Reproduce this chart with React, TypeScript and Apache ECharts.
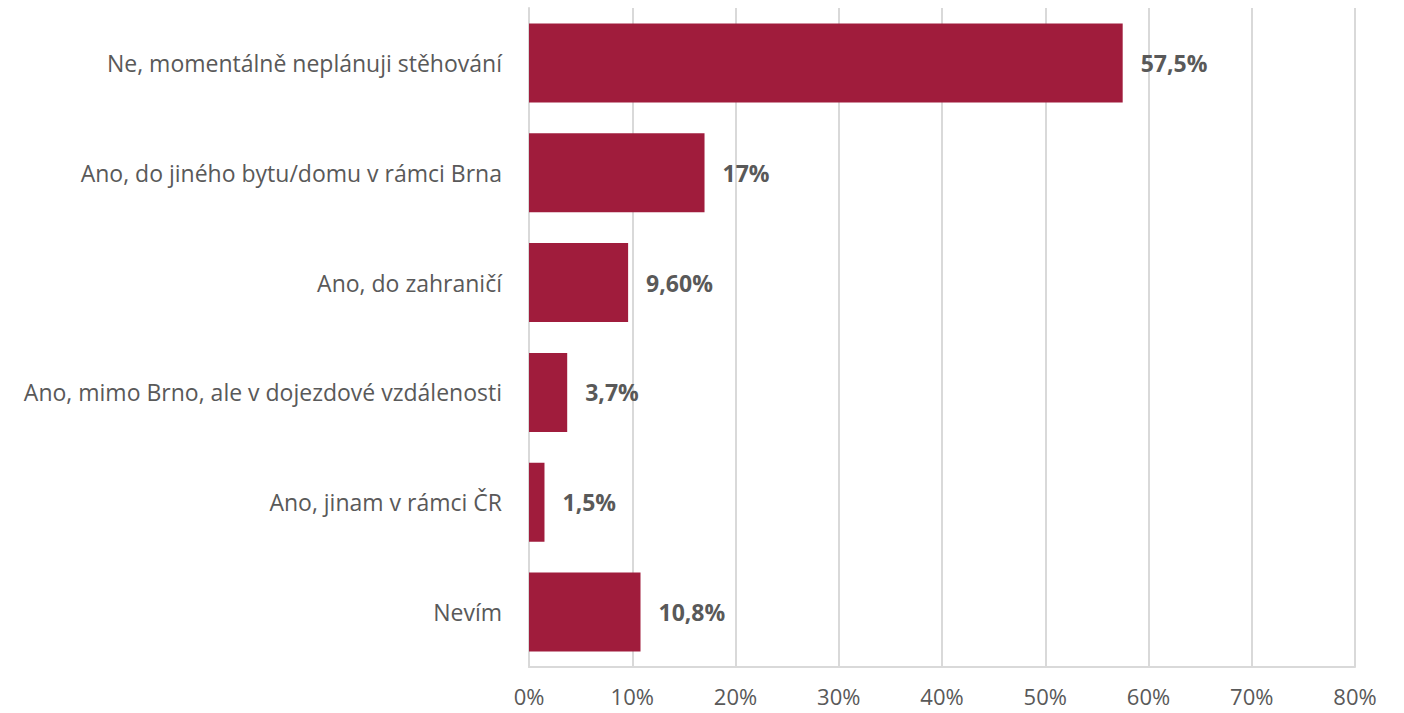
import React, { useEffect, useRef } from "react";
import * as echarts from "echarts";

const categories = [
  "Ne, momentálně neplánuji stěhování",
  "Ano, do jiného bytu/domu v rámci Brna",
  "Ano, do zahraničí",
  "Ano, mimo Brno, ale v dojezdové vzdálenosti",
  "Ano, jinam v rámci ČR",
  "Nevím",
];
const values = [57.5, 17, 9.6, 3.7, 1.5, 10.8];
const valueLabels = ["57,5%", "17%", "9,60%", "3,7%", "1,5%", "10,8%"];
const xTicks = [0, 10, 20, 30, 40, 50, 60, 70, 80];

export default function App() {
  const ref = useRef<HTMLDivElement>(null);
  useEffect(() => {
    if (!ref.current) return;
    const chart = echarts.init(ref.current, null, { renderer: "svg" });
    const font = "'Open Sans', sans-serif";
    chart.setOption({
      animation: false,
      backgroundColor: "#ffffff",
      grid: { left: 529, right: 49, top: 8, bottom: 46, containLabel: false },
      xAxis: {
        type: "value",
        min: xTicks[0],
        max: xTicks[xTicks.length - 1],
        interval: 10,
        axisLabel: {
          formatter: (v: number) => `${v}%`,
          color: "#595959",
          fontSize: 22,
          fontFamily: font,
          margin: 18,
        },
        axisLine: { show: true, lineStyle: { color: "#d9d9d9", width: 2 } },
        axisTick: { show: false },
        splitLine: { show: true, lineStyle: { color: "#d9d9d9", width: 2 } },
      },
      yAxis: {
        type: "category",
        inverse: true,
        data: categories,
        axisLabel: {
          color: "#595959",
          fontSize: 23,
          fontFamily: font,
          margin: 27,
        },
        axisLine: { show: true, lineStyle: { color: "#d9d9d9", width: 2 } },
        axisTick: { show: false },
        splitLine: { show: false },
      },
      series: [
        {
          type: "bar",
          data: values,
          barCategoryGap: "28%",
          itemStyle: { color: "#A01C3C" },
          label: {
            show: true,
            position: "right",
            distance: 18,
            formatter: (p: any) => valueLabels[p.dataIndex],
            color: "#595959",
            fontSize: 23,
            fontWeight: "bold",
            fontFamily: font,
          },
        },
      ],
    });
    return () => chart.dispose();
  }, []);
  return (
    <div
      ref={ref}
      style={{ position: "fixed", left: 0, top: 0, width: 1404, height: 713 }}
    />
  );
}
